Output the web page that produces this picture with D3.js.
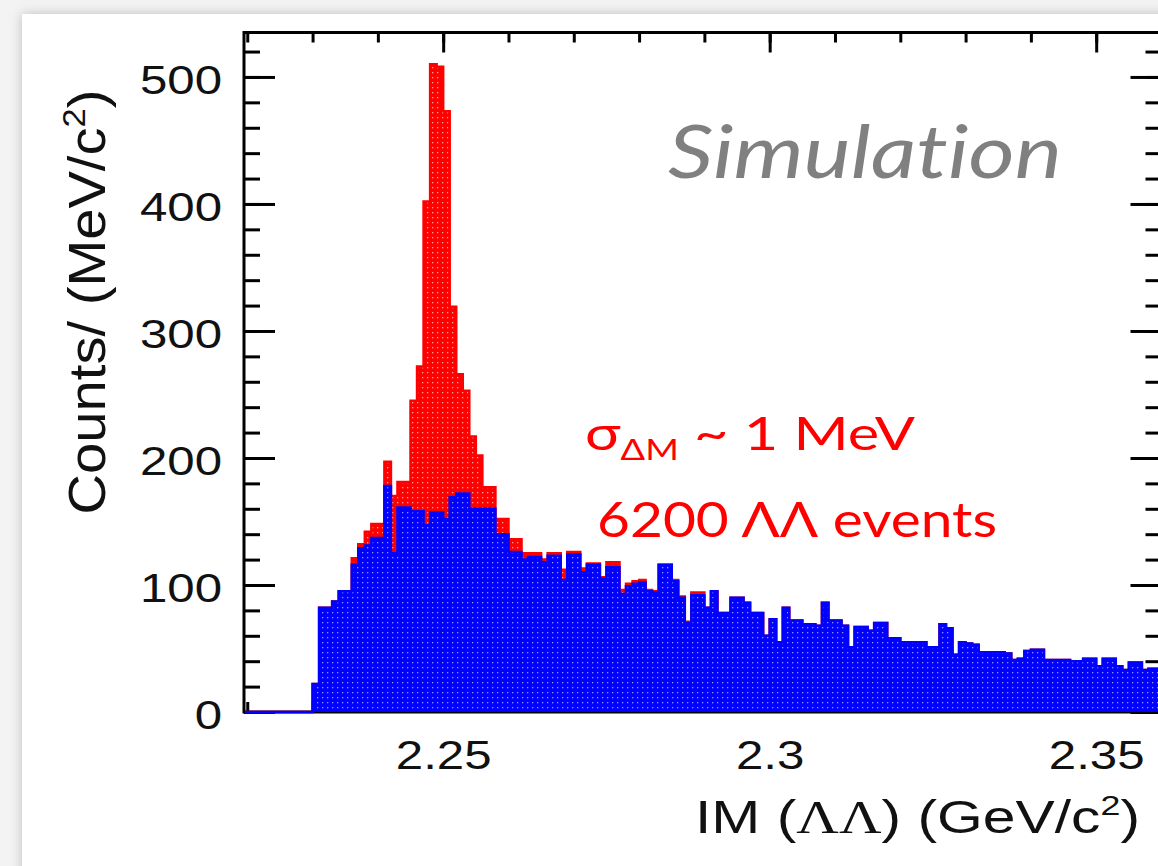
<!DOCTYPE html>
<html>
<head>
<meta charset="utf-8">
<script src="https://d3js.org/d3.v7.min.js"></script>
<style>
  body { margin: 0; background: #fff; }
  svg text { font-family: "Liberation Sans", Arial, sans-serif; font-variant-ligatures: none; }
</style>
</head>
<body>
<svg width="1158" height="866"></svg>
<script>
// histogram bins: 1 MeV wide, first bin starts at 2.219 GeV
const binStart = 2.219, binWidth = 0.001;

// blue: background only
const bkgCounts = [
  0, 0, 0, 0, 0, 0, 0, 0, 0, 0, 0,
  22, 82, 82, 87, 95, 95, 116, 129, 131, 137,
  137, 178, 125, 161, 161, 158, 158, 147, 157, 157,
  152, 169, 172, 172, 160, 160, 160, 160, 140, 140,
  126, 126, 120, 122, 122, 118, 123, 123, 104, 124,
  124, 110, 116, 116, 105, 114, 114, 93, 99, 101,
  102, 95, 94, 116, 116, 103, 90, 70, 92, 92,
  82, 95, 78, 78, 90, 90, 86, 78, 78, 60,
  73, 55, 82, 72, 72, 69, 69, 68, 86, 72,
  72, 68, 51, 67, 67, 64, 70, 70, 58, 58,
  55, 55, 55, 55, 51, 51, 69, 66, 45, 55,
  54, 53, 47, 47, 47, 47, 46, 41, 42, 48,
  49, 49, 41, 41, 41, 41, 40, 40, 42, 42,
  36, 42, 42, 36, 33, 39, 39, 33, 34, 34
];

// red: background + Lambda-Lambda signal
const totalCounts = [
  0, 0, 0, 0, 0, 0, 0, 0, 0, 0, 0,
  22, 82, 82, 87, 95, 95, 121, 132, 142, 148,
  148, 197, 170, 181, 181, 245, 272, 402, 510, 508,
  473, 319, 266, 253, 217, 202, 177, 177, 152, 152,
  136, 136, 125, 125, 125, 120, 125, 125, 112, 126,
  126, 113, 117, 117, 106, 118, 118, 96, 101, 103,
  104, 96, 95, 116, 116, 104, 91, 71, 94, 94,
  82, 95, 78, 78, 90, 90, 86, 78, 78, 60,
  73, 55, 82, 72, 72, 69, 69, 68, 86, 72,
  72, 68, 51, 67, 67, 64, 70, 70, 58, 58,
  55, 55, 55, 55, 51, 51, 69, 66, 45, 55,
  54, 53, 47, 47, 47, 47, 46, 41, 42, 48,
  49, 49, 41, 41, 41, 41, 40, 40, 42, 42,
  36, 42, 42, 36, 33, 39, 39, 33, 34, 34
];

const yTickValues = [0, 100, 200, 300, 400, 500];
const xTickValues = [2.25, 2.3, 2.35];
const xTickLabels = ["2.25", "2.3", "2.35"];

const W = 1158, H = 866;
const plot = { left: 244, right: 1161.5, top: 32.5, bottom: 712 };

const svg = d3.select("svg");
const defs = svg.append("defs");

// card background with soft shadow
defs.append("filter").attr("id", "shadow")
    .attr("x", "-5%").attr("y", "-5%").attr("width", "110%").attr("height", "110%")
  .append("feDropShadow")
    .attr("dx", 0).attr("dy", 0).attr("stdDeviation", 6)
    .attr("flood-color", "#999").attr("flood-opacity", 0.6);

svg.append("rect").attr("width", W).attr("height", H).attr("fill", "#f3f3f3");
svg.append("rect")
   .attr("x", 22).attr("y", 14).attr("width", W).attr("height", H)
   .attr("fill", "#fff").attr("filter", "url(#shadow)");

// dotted fill patterns
function makePattern(id, base, dot) {
    const p = defs.append("pattern").attr("id", id)
        .attr("patternUnits", "userSpaceOnUse").attr("width", 5).attr("height", 5);
    p.append("rect").attr("width", 5).attr("height", 5).attr("fill", base);
    p.append("rect").attr("x", 2).attr("y", 2).attr("width", 1.3).attr("height", 1.3).attr("fill", dot);
}
makePattern("bluePat", "#0000ff", "#9494ff");
makePattern("redPat", "#ff0000", "#ffa0a0");

defs.append("clipPath").attr("id", "plotClip")
  .append("rect")
    .attr("x", plot.left + 1.5).attr("y", plot.top)
    .attr("width", plot.right - plot.left - 1.5).attr("height", plot.bottom - plot.top + 2);

const x = d3.scaleLinear().domain([2.2195, 2.3600]).range([plot.left, plot.right]);
const y = d3.scaleLinear().domain([0, 535]).range([plot.bottom, plot.top]);

// ---- ticks (drawn first, histograms cover the lower ones) ----
function styleTicks(g) {
    g.select(".domain").remove();
    g.selectAll("line").attr("stroke", "#000").attr("stroke-width", 3);
}

const yMinor = d3.range(0, 535, 20);
const xMinor = d3.range(2.22, 2.365, 0.01);

svg.append("g").attr("transform", `translate(${plot.left},0)`)
   .call(d3.axisLeft(y).tickValues(yMinor).tickSize(-16).tickFormat(""))
   .call(styleTicks);
svg.append("g").attr("transform", `translate(${plot.right},0)`)
   .call(d3.axisRight(y).tickValues(yMinor).tickSize(-16).tickFormat(""))
   .call(styleTicks);
svg.append("g").attr("transform", `translate(${plot.right},0)`)
   .call(d3.axisRight(y).tickValues(yTickValues).tickSize(-31).tickFormat(""))
   .call(styleTicks);

const yAxis = svg.append("g").attr("transform", `translate(${plot.left},0)`)
   .call(d3.axisLeft(y).tickValues(yTickValues).tickSize(-31).tickFormat(d3.format("d")))
   .call(styleTicks);
yAxis.selectAll("text")
   .attr("x", 0).attr("dy", "0.36em")
   .attr("text-anchor", "end")
   .attr("transform", "translate(-22,2) scale(1.2,1)")
   .attr("font-size", 41).attr("fill", "#111")
   .style("font-family", "Liberation Sans, Arial, sans-serif");

svg.append("g").attr("transform", `translate(0,${plot.top})`)
   .call(d3.axisTop(x).tickValues(xMinor).tickSize(-10).tickFormat(""))
   .call(styleTicks);
svg.append("g").attr("transform", `translate(0,${plot.top})`)
   .call(d3.axisTop(x).tickValues(xTickValues).tickSize(-20).tickFormat(""))
   .call(styleTicks);
svg.append("g").attr("transform", `translate(0,${plot.bottom})`)
   .call(d3.axisBottom(x).tickValues(xMinor).tickSize(-10).tickFormat(""))
   .call(styleTicks);

const xAxis = svg.append("g").attr("transform", `translate(0,${plot.bottom})`)
   .call(d3.axisBottom(x).tickValues(xTickValues).tickSize(-20)
        .tickFormat((d, i) => xTickLabels[i]))
   .call(styleTicks);
xAxis.selectAll("text")
   .attr("y", 0).attr("dy", "0.71em")
   .attr("transform", "translate(0,28) scale(1.2,1)")
   .attr("font-size", 41).attr("fill", "#111")
   .style("font-family", "Liberation Sans, Arial, sans-serif");

// frame
svg.append("rect")
   .attr("x", plot.left).attr("y", plot.top)
   .attr("width", plot.right - plot.left).attr("height", plot.bottom - plot.top)
   .attr("fill", "none").attr("stroke", "#000").attr("stroke-width", 3);

// ---- histograms ----
function stepPoints(counts) {
    const pts = [];
    counts.forEach((v, i) => {
        const lo = binStart + i * binWidth;
        pts.push({ x: lo, v: v }, { x: lo + binWidth, v: v });
    });
    return pts;
}

const area = d3.area().x(d => x(d.x)).y0(y(0)).y1(d => y(d.v));
const line = d3.line().x(d => x(d.x)).y(d => y(d.v));

const hist = svg.append("g").attr("clip-path", "url(#plotClip)");

[[totalCounts, "#ff0000", "url(#redPat)"], [bkgCounts, "#0000ff", "url(#bluePat)"]]
  .forEach(([counts, col, pat]) => {
    const pts = stepPoints(counts);
    hist.append("path").datum(pts).attr("d", area).attr("fill", pat);
    hist.append("path").datum(pts).attr("d", line)
        .attr("fill", "none").attr("stroke", col).attr("stroke-width", 2.5);
  });

// ---- axis titles and annotations ----
const yTitle = svg.append("text")
   .attr("transform", "translate(105,302) rotate(-90)")
   .attr("text-anchor", "middle")
   .attr("font-size", 52).attr("fill", "#111")
   .attr("textLength", 425).attr("lengthAdjust", "spacingAndGlyphs");
yTitle.append("tspan").text("Counts/ (MeV/c");
yTitle.append("tspan").attr("font-size", 32).attr("dy", -20).text("2");
yTitle.append("tspan").attr("dy", 20).text(")");

const xTitle = svg.append("text")
   .attr("x", 695).attr("y", 833)
   .attr("font-size", 46).attr("fill", "#111")
   .attr("textLength", 445).attr("lengthAdjust", "spacingAndGlyphs");
xTitle.append("tspan").text("IM (");
xTitle.append("tspan").style("font-family", "Liberation Serif, serif").text("ΛΛ");
xTitle.append("tspan").text(") (GeV/c");
xTitle.append("tspan").attr("font-size", 28).attr("dy", -18).text("2");
xTitle.append("tspan").attr("dy", 18).text(")");

svg.append("text")
   .attr("x", 668).attr("y", 178)
   .style("font-family", "Lato, sans-serif").style("font-style", "italic")
   .attr("font-size", 74).attr("fill", "#808080")
   .attr("textLength", 394).attr("lengthAdjust", "spacingAndGlyphs")
   .text("Simulation");

const sigma = svg.append("text")
   .attr("x", 585).attr("y", 450)
   .style("font-family", "Lato, sans-serif")
   .attr("font-size", 46).attr("fill", "#ff0000")
   .attr("textLength", 330).attr("lengthAdjust", "spacingAndGlyphs");
sigma.append("tspan").text("σ");
sigma.append("tspan").attr("font-size", 28).attr("dy", 10).text("ΔM");
sigma.append("tspan").attr("dy", -10).text(" ~ 1 MeV");

svg.append("text")
   .attr("x", 597).attr("y", 537)
   .style("font-family", "Lato, sans-serif")
   .attr("font-size", 49).attr("fill", "#ff0000")
   .attr("textLength", 400).attr("lengthAdjust", "spacingAndGlyphs")
   .text("6200 ΛΛ events");
</script>
</body>
</html>
